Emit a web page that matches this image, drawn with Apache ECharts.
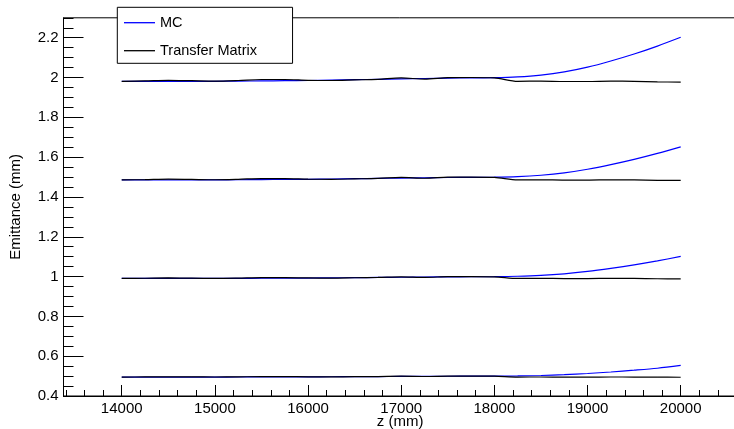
<!DOCTYPE html>
<html>
<head>
<meta charset="utf-8">
<script src="https://cdn.jsdelivr.net/npm/echarts@6/dist/echarts.min.js"></script>
<style>
html,body{margin:0;padding:0;background:#fff;}
#chart{width:734px;height:429px;}
</style>
</head>
<body>
<div id="chart"></div>
<script>
// ---- data ----
const zValues = [14000,14250,14500,14750,15000,15250,15500,15750,16000,16250,16500,16750,17000,17250,17500,17750,18000,18250,18500,18750,19000,19250,19500,19750,20000];

const mc1 = [0.4952,0.4952,0.4952,0.4952,0.4952,0.4955,0.4957,0.4960,0.4962,0.4967,0.4972,0.4978,0.4983,0.4988,0.4993,0.4995,0.4998,0.5007,0.5030,0.5070,0.5130,0.5207,0.5295,0.5395,0.5535];
const mc2 = [0.9905,0.9905,0.9905,0.9905,0.9905,0.9910,0.9915,0.9920,0.9925,0.9935,0.9945,0.9955,0.9965,0.9975,0.9985,0.9990,0.9995,1.0015,1.0060,1.0140,1.0260,1.0415,1.0590,1.0790,1.1010];
const mc3 = [1.4857,1.4857,1.4857,1.4857,1.4857,1.4865,1.4872,1.4880,1.4887,1.4902,1.4917,1.4933,1.4948,1.4963,1.4978,1.4985,1.4993,1.5022,1.5091,1.5209,1.5391,1.5622,1.5885,1.6185,1.6515];
const mc4 = [1.981,1.981,1.981,1.981,1.981,1.982,1.983,1.984,1.985,1.987,1.989,1.991,1.993,1.995,1.997,1.998,1.999,2.003,2.012,2.028,2.052,2.083,2.118,2.158,2.202];

const tm1 = [0.4952,0.4957,0.4965,0.4960,0.4955,0.4962,0.4975,0.4975,0.4965,0.4962,0.4970,0.4978,0.4994,0.4980,0.4998,0.5000,0.4994,0.4952,0.4955,0.4950,0.4950,0.4955,0.4952,0.4945,0.4943];
const tm2 = [0.9905,0.9915,0.9930,0.9920,0.9910,0.9925,0.9950,0.9950,0.9930,0.9925,0.9940,0.9955,0.9989,0.9959,0.9995,1.0000,0.9989,0.9905,0.9910,0.9900,0.9900,0.9910,0.9905,0.9890,0.9885];
const tm3 = [1.4857,1.4872,1.4895,1.4880,1.4865,1.4887,1.4924,1.4924,1.4895,1.4887,1.4909,1.4933,1.4983,1.4939,1.4993,1.5000,1.4983,1.4857,1.4865,1.4850,1.4850,1.4865,1.4857,1.4835,1.4828];
const tm4 = [1.981,1.983,1.986,1.984,1.982,1.985,1.990,1.990,1.986,1.985,1.988,1.991,1.998,1.992,1.999,2.000,1.998,1.981,1.982,1.980,1.980,1.982,1.981,1.978,1.977];

const xMajorTicks = [14000,15000,16000,17000,18000,19000,20000];
const xMinorTicks = [13400,13600,13800,14000,14200,14400,14600,14800,15000,15200,15400,15600,15800,16000,16200,16400,16600,16800,17000,17200,17400,17600,17800,18000,18200,18400,18600,18800,19000,19200,19400,19600,19800,20000,20200,20400,20600];
const yMajorTicks = [0.4,0.6,0.8,1.0,1.2,1.4,1.6,1.8,2.0,2.2];
const yMinorTicks = [0.4,0.45,0.5,0.55,0.6,0.65,0.7,0.75,0.8,0.85,0.9,0.95,1.0,1.05,1.1,1.15,1.2,1.25,1.3,1.35,1.4,1.45,1.5,1.55,1.6,1.65,1.7,1.75,1.8,1.85,1.9,1.95,2.0,2.05,2.1,2.15,2.2,2.25,2.3];

const mcSets = [mc1, mc2, mc3, mc4];
const tmSets = [tm1, tm2, tm3, tm4];

// ---- chart ----
const FONT = '"Liberation Sans", Arial, sans-serif';
const X_MIN = 13375, X_MAX = 20600, Y_MIN = 0.4, Y_MAX = 2.3;

function pairs(vals) { return zValues.map((z, i) => [z, vals[i]]); }

const series = [];
mcSets.forEach(v => series.push({
  name: 'MC', type: 'line', data: pairs(v), xAxisIndex: 0, yAxisIndex: 0,
  smooth: 0.3, symbol: 'none', lineStyle: { color: '#0000ff', width: 1.2 },
  itemStyle: { color: '#0000ff' }, z: 2
}));
tmSets.forEach(v => series.push({
  name: 'Transfer Matrix', type: 'line', data: pairs(v), xAxisIndex: 0, yAxisIndex: 0,
  smooth: 0.3, symbol: 'none', lineStyle: { color: '#000000', width: 1.2 },
  itemStyle: { color: '#000000' }, z: 3
}));

const chart = echarts.init(document.getElementById('chart'), null, { renderer: 'canvas' });
chart.setOption({
  animation: false,
  backgroundColor: '#ffffff',
  textStyle: { fontFamily: FONT },
  grid: {
    left: 63.5, top: 17.8, width: 673.1, height: 378.2,
    containLabel: false, outerBoundsMode: 'none',
    show: true, borderColor: '#000', borderWidth: 1, backgroundColor: 'transparent'
  },
  legend: {
    data: ['MC', 'Transfer Matrix'],
    orient: 'vertical',
    left: 117.3, top: 7.3,
    padding: [7.4, 35.6, 4.6, 6.7],
    itemWidth: 31, itemHeight: 1.3, itemGap: 12,
    icon: 'rect',
    backgroundColor: '#ffffff', borderColor: '#000', borderWidth: 1,
    textStyle: { fontFamily: FONT, fontSize: 14.5, color: '#000', lineHeight: 16 },
    z: 10
  },
  xAxis: [
    {
      type: 'value', min: X_MIN, max: X_MAX, position: 'bottom',
      name: 'z (mm)', nameLocation: 'middle', nameGap: 18, nameMoveOverlap: false,
      nameTextStyle: { fontFamily: FONT, fontSize: 15, color: '#000' },
      axisLine: { show: true, lineStyle: { color: '#000', width: 1 } },
      axisTick: { show: true, inside: true, length: 11, customValues: xMajorTicks, lineStyle: { color: '#000' } },
      axisLabel: { show: true, customValues: xMajorTicks, margin: 5, fontFamily: FONT, fontSize: 15, color: '#000',
        formatter: v => String(Math.round(v)) },
      splitLine: { show: false }
    },
    {
      type: 'value', min: X_MIN, max: X_MAX, position: 'bottom',
      axisLine: { show: false },
      axisTick: { show: true, inside: true, length: 6, customValues: xMinorTicks, lineStyle: { color: '#000' } },
      axisLabel: { show: false },
      splitLine: { show: false }
    }
  ],
  yAxis: [
    {
      type: 'value', min: Y_MIN, max: Y_MAX, position: 'left',
      name: 'Emittance (mm)', nameLocation: 'middle', nameGap: 40, nameMoveOverlap: false,
      nameTextStyle: { fontFamily: FONT, fontSize: 15, color: '#000' },
      axisLine: { show: true, lineStyle: { color: '#000', width: 1 } },
      axisTick: { show: true, inside: true, length: 20, customValues: yMajorTicks, lineStyle: { color: '#000' } },
      axisLabel: { show: true, customValues: yMajorTicks, margin: 5, fontFamily: FONT, fontSize: 15, color: '#000',
        formatter: v => String(Math.round(v * 10) / 10) },
      splitLine: { show: false }
    },
    {
      type: 'value', min: Y_MIN, max: Y_MAX, position: 'left',
      axisLine: { show: false },
      axisTick: { show: true, inside: true, length: 10, customValues: yMinorTicks, lineStyle: { color: '#000' } },
      axisLabel: { show: false },
      splitLine: { show: false }
    }
  ],
  series: series
});
</script>
</body>
</html>
